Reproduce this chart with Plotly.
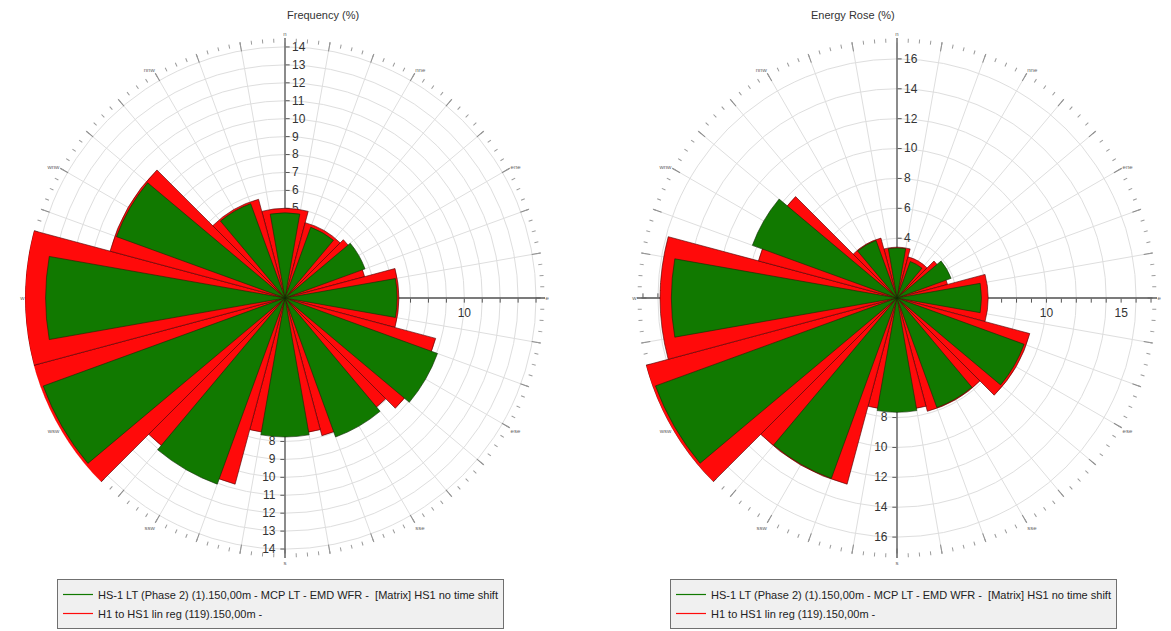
import plotly.graph_objects as go

# 12-sector wind rose data (percent per sector)
sector_deg = [0, 30, 60, 90, 120, 150, 180, 210, 240, 270, 300, 330]
dir_labels = ["n", "nne", "ene", "e", "ese", "sse", "s", "ssw", "wsw", "w", "wnw", "nnw"]

freq_lt = [4.75, 4.2, 4.75, 6.25, 9.05, 8.25, 7.75, 11.05, 14.35, 13.35, 10.0, 5.6]
freq_reg = [5.0, 4.35, 4.6, 6.35, 8.7, 7.95, 7.6, 10.75, 14.55, 14.5, 10.1, 5.7]

energy_lt = [3.35, 2.6, 3.85, 5.65, 9.05, 7.8, 7.65, 12.85, 17.2, 15.1, 10.3, 4.1]
energy_reg = [3.4, 2.85, 3.5, 6.1, 9.2, 7.85, 7.5, 12.9, 17.4, 15.85, 9.6, 4.15]

name_lt = "HS-1 LT (Phase 2) (1).150,00m - MCP LT - EMD WFR -  [Matrix] HS1 no time shift"
name_reg = "H1 to HS1 lin reg (119).150,00m -"

GREEN = "#117900"
RED = "#ff0a0a"
FONT = "Liberation Sans, Arial, sans-serif"

W, H = 1171, 631
R_PX = 260


def domain(cx, cy):
    return dict(x=[(cx - R_PX) / W, (cx + R_PX) / W],
                y=[1 - (cy + R_PX) / H, 1 - (cy - R_PX) / H])


def rose(fig, first_id, cx, cy, rmax, n_ticks, e_ticks, lt, reg, legend_id):
    ids = ["polar" if first_id + k == 1 else f"polar{first_id + k}" for k in range(5)]
    dom = domain(cx, cy)
    ang_common = dict(rotation=90, direction="clockwise")
    major = list(range(0, 360, 10))
    major_text = [dir_labels[sector_deg.index(a)] if a in sector_deg else "" for a in major]
    minor = [i * 2.5 for i in range(144)]
    e_text = [str(v) if v % 5 == 0 else "" for v in e_ticks]
    axis_font = dict(size=12, color="#333", family=FONT)

    def radial(angle, vals, text, grid=False):
        # labels kept horizontal whatever the direction of the axis
        tick_angle = angle if angle <= 180 else angle - 360
        return dict(range=[0, rmax], angle=angle, tickangle=tick_angle, tickmode="array",
                    tickvals=vals, ticktext=text, ticks="outside", ticklen=4,
                    tickcolor="#555", showline=True, linecolor="#555", linewidth=1.3,
                    showgrid=grid, gridcolor="#dedede", gridwidth=1,
                    tickfont=axis_font, side="clockwise")

    layouts = {
        # grid, compass labels and north axis
        ids[0]: dict(domain=dom, bgcolor="white",
                     angularaxis=dict(**ang_common, tickmode="array", tickvals=major,
                                      ticktext=major_text, ticks="inside", ticklen=9,
                                      tickcolor="#8a8a8a", showgrid=True, gridcolor="#dedede",
                                      gridwidth=1, showline=False,
                                      tickfont=dict(size=6, color="#666", family=FONT)),
                     radialaxis=radial(90, n_ticks, [str(v) for v in n_ticks], grid=True)),
        # south axis
        ids[1]: dict(domain=dom, bgcolor="rgba(0,0,0,0)",
                     angularaxis=dict(**ang_common, visible=False),
                     radialaxis=radial(270, n_ticks, [str(v) for v in n_ticks])),
        # east axis
        ids[2]: dict(domain=dom, bgcolor="rgba(0,0,0,0)",
                     angularaxis=dict(**ang_common, visible=False),
                     radialaxis=radial(0, e_ticks, e_text)),
        # west axis with the fine compass ticks
        ids[3]: dict(domain=dom, bgcolor="rgba(0,0,0,0)",
                     angularaxis=dict(**ang_common, tickmode="array", tickvals=minor,
                                      ticks="inside", ticklen=4, tickcolor="#9a9a9a",
                                      showticklabels=False, showgrid=False, showline=False),
                     radialaxis=radial(180, e_ticks, e_text)),
        # sector bars, drawn overlapping rather than stacked
        ids[4]: dict(domain=dom, bgcolor="rgba(0,0,0,0)", barmode="overlay",
                     angularaxis=dict(**ang_common, visible=False),
                     radialaxis=dict(range=[0, rmax], visible=False)),
    }
    fig.update_layout(**layouts)

    # an empty trace so each axis-only subplot gets rendered
    for pid in ids[:4]:
        fig.add_trace(go.Scatterpolar(r=[None], theta=[None], mode="lines", subplot=pid,
                                      showlegend=False, hoverinfo="skip"))

    fig.add_trace(go.Barpolar(r=reg, theta=sector_deg, width=30, subplot=ids[4],
                              marker=dict(color=RED, line=dict(color="#4a0000", width=0.6)),
                              showlegend=False, name=name_reg))
    fig.add_trace(go.Barpolar(r=lt, theta=sector_deg, width=20, subplot=ids[4],
                              marker=dict(color=GREEN, line=dict(color="#102a05", width=0.6)),
                              showlegend=False, name=name_lt))
    # legend entries drawn as short lines
    for nm, col in ((name_lt, GREEN), (name_reg, RED)):
        fig.add_trace(go.Scatterpolar(r=[None], theta=[None], mode="lines", name=nm,
                                      line=dict(color=col, width=1.2), subplot=ids[4],
                                      legend=legend_id, showlegend=True))


fig = go.Figure()
rose(fig, 1, 285, 298, 14.5, list(range(1, 15)), list(range(1, 15)),
     freq_lt, freq_reg, "legend")
rose(fig, 6, 897, 298, 17.4, list(range(2, 17, 2)), list(range(1, 18)),
     energy_lt, energy_reg, "legend2")

legend_style = dict(xanchor="left", yanchor="bottom", bgcolor="#f0f0f0",
                    bordercolor="#707070", borderwidth=1, tracegroupgap=0,
                    font=dict(size=11, color="#222", family=FONT), itemwidth=30)

fig.update_layout(
    width=W, height=H, margin=dict(l=0, r=0, t=0, b=0, autoexpand=False),
    paper_bgcolor="white", font=dict(family=FONT),
    legend=dict(x=57 / W, y=2 / H, **legend_style),
    legend2=dict(x=670 / W, y=2 / H, **legend_style),
    annotations=[
        dict(text="Frequency (%)", x=285 / W, y=1 - 15 / H, xref="paper", yref="paper",
             yanchor="middle", showarrow=False, font=dict(size=11, color="#333", family=FONT)),
        dict(text="Energy Rose (%)", x=897 / W, y=1 - 15 / H, xref="paper", yref="paper",
             yanchor="middle", showarrow=False, font=dict(size=11, color="#333", family=FONT)),
    ],
)

fig.write_html("out.html")
